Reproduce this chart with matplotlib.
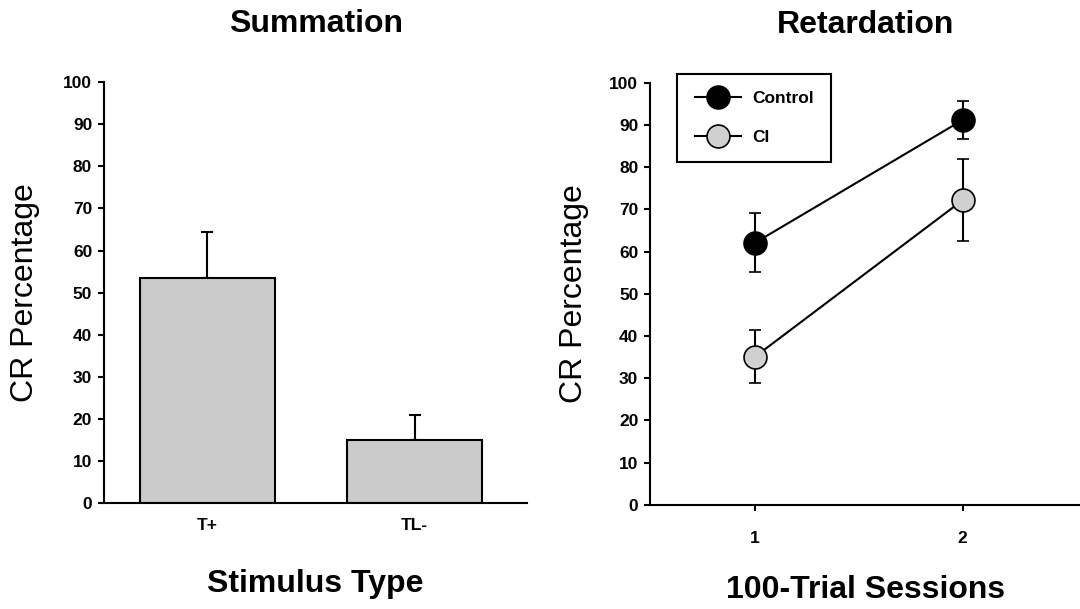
import matplotlib.pyplot as plt
import numpy as np

plt.rcParams['font.family'] = ['Liberation Sans', 'DejaVu Sans']

# Summation panel
stim_types = ['T+', 'TL-']
stim_means = [53.5, 15.0]
stim_err = [10.8, 6.0]

# Retardation panel
sessions = [1, 2]
control_means = [62.1, 91.2]
control_err = [7.0, 4.4]
ci_means = [35.1, 72.2]
ci_err = [6.3, 9.7]

yticks = np.arange(0, 101, 10)

fig = plt.figure(figsize=(10.8, 6.09), dpi=100)
ax1 = fig.add_axes([0.0963, 0.174, 0.392, 0.691])
ax2 = fig.add_axes([0.602, 0.171, 0.398, 0.693])

lw = 1.5

# Left: bars with one-sided error bars
x = np.arange(len(stim_types))
ax1.bar(x, stim_means, width=0.65, color='#cbcbcb', edgecolor='black', linewidth=lw, zorder=2)
ax1.errorbar(x, stim_means, yerr=[np.zeros(len(stim_err)), stim_err], fmt='none',
             ecolor='black', elinewidth=lw, capsize=4.5, capthick=lw, zorder=1)
ax1.set_xlim(-0.496, 1.542)
ax1.set_xticks(x)
ax1.set_xticklabels(stim_types)
ax1.tick_params(axis='x', length=0, pad=11)
ax1.set_title('Summation', fontsize=23, fontweight='bold', pad=36)
ax1.set_xlabel('Stimulus Type', fontsize=23, fontweight='bold')
ax1.xaxis.label.set_va('baseline')
ax1.xaxis.set_label_coords(0.5, -0.211)
ax1.set_ylabel('CR Percentage', fontsize=23)
ax1.yaxis.label.set_va('baseline')
ax1.yaxis.set_label_coords(-0.168, 0.5)

# Right: line plot with error bars
ax2.errorbar(sessions, control_means, yerr=control_err, color='black', lw=lw,
             ecolor='black', elinewidth=lw, capsize=4.5, capthick=lw,
             marker='o', ms=16.5, mfc='black', mec='black', mew=1.2, label='Control', zorder=3)
ax2.errorbar(sessions, ci_means, yerr=ci_err, color='black', lw=lw,
             ecolor='black', elinewidth=lw, capsize=4.5, capthick=lw,
             marker='o', ms=16.5, mfc='#d0d0d0', mec='black', mew=1.2, label='CI', zorder=3)
ax2.set_xlim(0.495, 2.565)
ax2.set_xticks(sessions)
ax2.tick_params(axis='x', length=4.5, width=lw, pad=14)
ax2.set_title('Retardation', fontsize=23, fontweight='bold', pad=36)
ax2.set_xlabel('100-Trial Sessions', fontsize=23, fontweight='bold')
ax2.xaxis.label.set_va('baseline')
ax2.xaxis.set_label_coords(0.5, -0.220)
ax2.set_ylabel('CR Percentage', fontsize=23)
ax2.yaxis.label.set_va('baseline')
ax2.yaxis.set_label_coords(-0.158, 0.5)

leg = ax2.legend(loc='upper left', bbox_to_anchor=(0.063, 1.021), borderaxespad=0,
                 prop={'weight': 'bold', 'size': 12.5},
                 handlelength=2.7, handletextpad=0.6, labelspacing=1.35,
                 borderpad=1.0, fancybox=False, framealpha=1, edgecolor='black')
leg.get_frame().set_linewidth(lw)

for ax in (ax1, ax2):
    ax.set_ylim(0, 100)
    ax.set_yticks(yticks)
    ax.tick_params(axis='y', length=4.5, width=lw, pad=4)
    ax.spines['top'].set_visible(False)
    ax.spines['right'].set_visible(False)
    ax.spines['left'].set_linewidth(lw)
    ax.spines['bottom'].set_linewidth(lw)
    for lbl in ax.get_xticklabels() + ax.get_yticklabels():
        lbl.set_fontweight('bold')
        lbl.set_fontsize(12.5)

plt.savefig('out.png', dpi=100)
